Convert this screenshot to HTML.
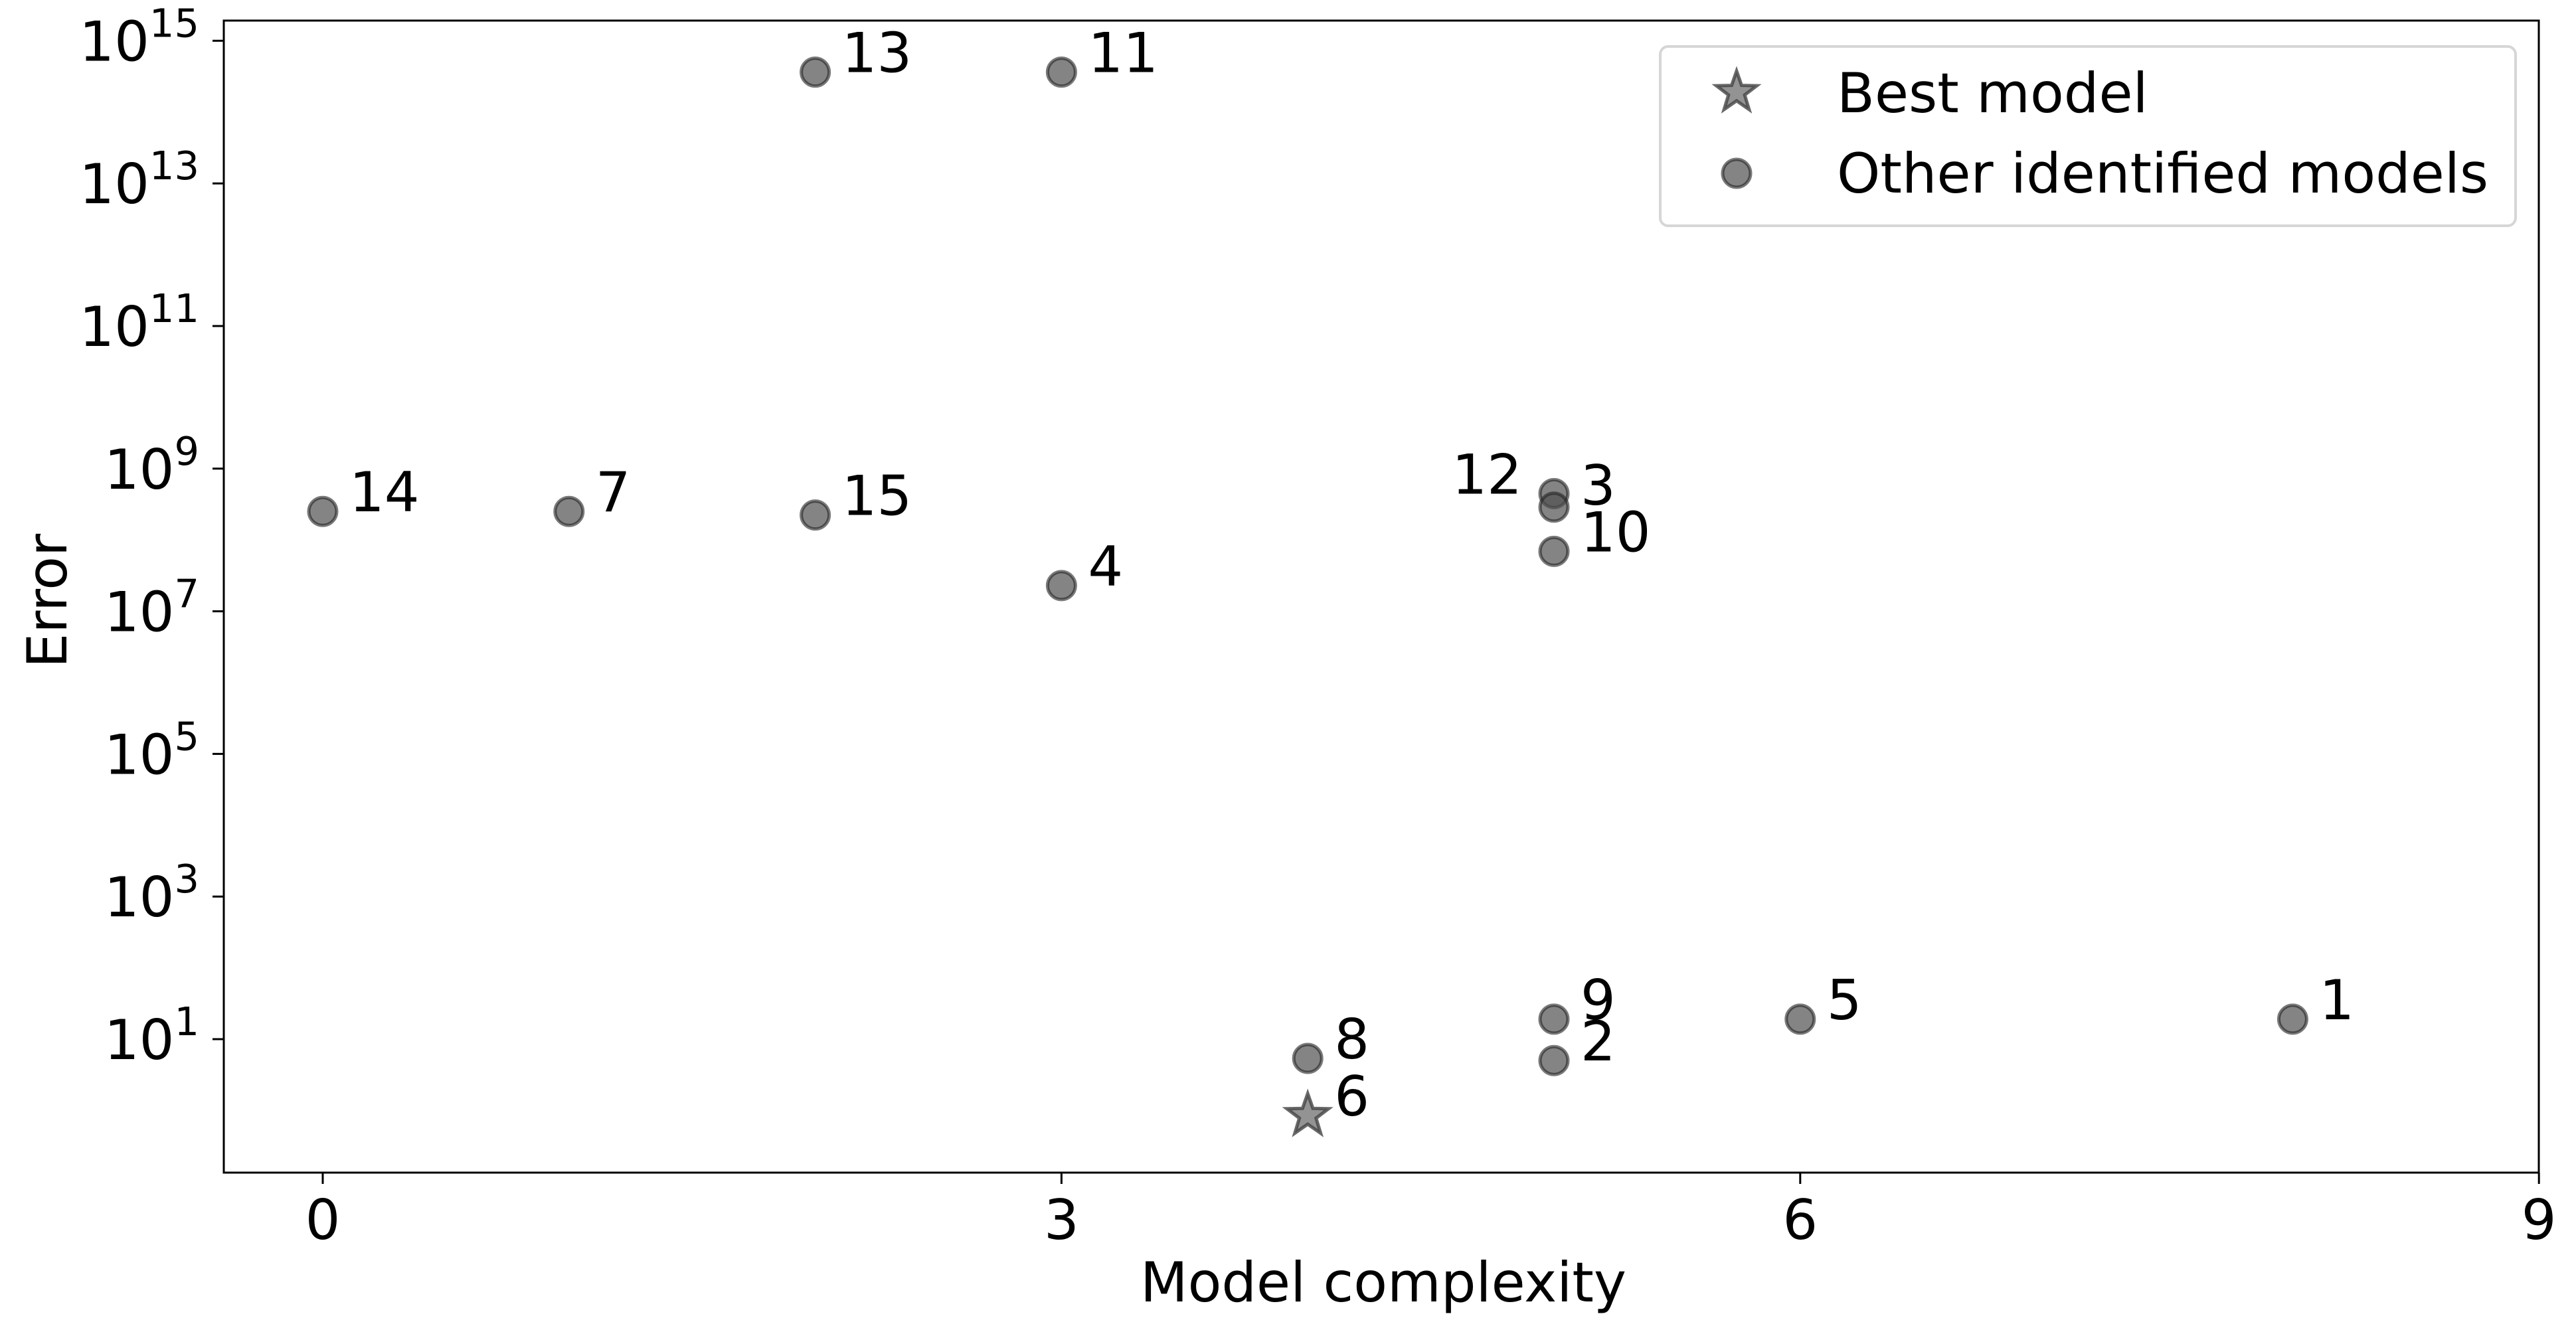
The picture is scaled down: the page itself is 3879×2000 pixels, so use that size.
<!DOCTYPE html>
<html><head><meta charset="utf-8"><style>
html,body{margin:0;padding:0;background:#fff;}
svg{display:block;font-family:"DejaVu Sans","Liberation Sans",sans-serif;}
</style></head><body>
<svg id="chart" width="3879" height="2000" viewBox="0 0 3879 2000" xmlns="http://www.w3.org/2000/svg">
<rect x="0" y="0" width="3879" height="2000" fill="#fff"/>
<g id="marks"></g>
<rect x="337" y="31" width="3486" height="1735" fill="none" stroke="#000" stroke-width="3"/>
<g id="axes"></g>
<text x="2083" y="1960" font-size="83" text-anchor="middle">Model complexity</text>
<text x="0" y="0" font-size="83" text-anchor="middle" transform="translate(100,905) rotate(-90)">Error</text>
<g>
<rect x="2500" y="70" width="1288" height="270" rx="12" fill="#fff" stroke="#d6d6d6" stroke-width="4"/>
<polygon id="lstar" fill="#808080" fill-opacity="0.85" stroke="#444" stroke-opacity="0.8" stroke-width="5"/>
<circle cx="2615" cy="261" r="21" fill="#505050" fill-opacity="0.7" stroke="#222" stroke-opacity="0.6" stroke-width="5"/>
<text x="2766" y="169" font-size="83">Best model</text>
<text x="2766" y="290" font-size="83">Other identified models</text>
</g>
</svg>
<script>
const labels = ["14","7","15","13","11","4","12","3","10","8","6","9","2","5","1"];
const complexity = [0,1,2,2,3,3,5,5,5,4,4,5,5,6,8];
const logError = [8.4,8.4,8.35,14.56,14.56,7.36,8.65,8.46,7.84,0.73,-0.07,1.28,0.7,1.28,1.28];
const isBest = [0,0,0,0,0,0,0,0,0,0,1,0,0,0,0];
const xTicks = [0,3,6,9];
const yTickExps = [1,3,5,7,9,11,13,15];

const NS="http://www.w3.org/2000/svg";
function X(v){return 486+v*370.8;}
function Y(l){return 1565-(l-1)*107.4;}
function mk(t,a,p){const e=document.createElementNS(NS,t);for(const k in a)e.setAttribute(k,a[k]);(p||marks).appendChild(e);return e;}
const marks=document.getElementById('marks'), axes=document.getElementById('axes');
function starPts(cx,cy,R){const r=R*0.4;let s=[];for(let i=0;i<10;i++){const a=-Math.PI/2+i*Math.PI/5;const rr=i%2?r:R;s.push((cx+rr*Math.cos(a)).toFixed(1)+','+(cy+rr*Math.sin(a)).toFixed(1));}return s.join(' ');}
document.getElementById('lstar').setAttribute('points',starPts(2615,139,32));

for(const t of xTicks){
  const tk=mk('line',{x1:X(t),x2:X(t),y1:1766,y2:1783,stroke:'#000','stroke-width':3},axes);
  
  
  const tl=mk('text',{x:X(t),y:1866,'font-size':83,'text-anchor':'middle'},axes);
  tl.textContent=t;
  
  
}
for(const e of yTickExps){
  const y=Y(e);
  const tk=mk('line',{x1:320,x2:337,y1:y,y2:y,stroke:'#000','stroke-width':3},axes);
  
  
  const tl=mk('text',{x:300,y:y+30,'font-size':83,'text-anchor':'end'},axes);
  
  
  const b=document.createElementNS(NS,'tspan');b.textContent='10';tl.appendChild(b);
  const s=document.createElementNS(NS,'tspan');s.textContent=e;s.setAttribute('font-size','59');s.setAttribute('dy','-36');tl.appendChild(s);
}
for(let i=0;i<labels.length;i++){
  const cx=X(complexity[i]), cy=Y(logError[i]);
  let m;
  if(isBest[i]){m=mk('polygon',{points:starPts(cx,cy,33),fill:'#808080','fill-opacity':0.85,stroke:'#444','stroke-opacity':0.8,'stroke-width':5});}
  else{m=mk('circle',{cx:cx,cy:cy,r:21,fill:'#505050','fill-opacity':0.7,stroke:'#222','stroke-opacity':0.6,'stroke-width':5});}
  
  
  const left = labels[i]==='12';
  const t=mk('text',{x:left?cx-48:cx+40,y:cy+(labels[i]==='3'?-4:0),'font-size':83,'text-anchor':left?'end':'start'});
  t.textContent=labels[i];
  
  
}
</script>
</body></html>
